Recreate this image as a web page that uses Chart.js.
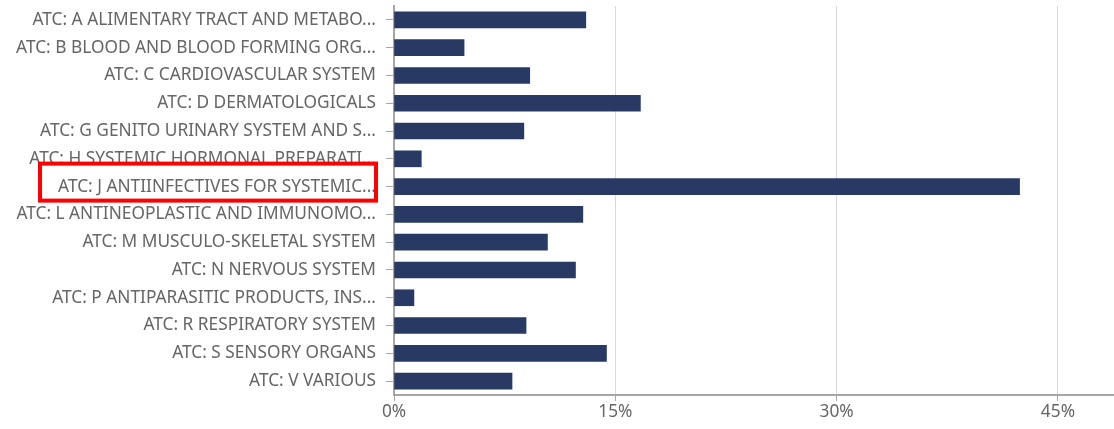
<!DOCTYPE html>
<html>
<head>
<meta charset="utf-8">
<script src="https://cdn.jsdelivr.net/npm/chart.js@4"></script>
<style>
  html, body { margin: 0; padding: 0; background: #fff; }
  #wrap { width: 1114px; height: 429px; }
</style>
</head>
<body>
<div id="wrap"><canvas id="atc-chart"></canvas></div>
<script>
// ATC groups (labels truncated as shown in the source chart)
var categories = [
  "ATC: A ALIMENTARY TRACT AND METABO...",
  "ATC: B BLOOD AND BLOOD FORMING ORG...",
  "ATC: C CARDIOVASCULAR SYSTEM",
  "ATC: D DERMATOLOGICALS",
  "ATC: G GENITO URINARY SYSTEM AND S...",
  "ATC: H SYSTEMIC HORMONAL PREPARATI...",
  "ATC: J ANTIINFECTIVES FOR SYSTEMIC...",
  "ATC: L ANTINEOPLASTIC AND IMMUNOMO...",
  "ATC: M MUSCULO-SKELETAL SYSTEM",
  "ATC: N NERVOUS SYSTEM",
  "ATC: P ANTIPARASITIC PRODUCTS, INS...",
  "ATC: R RESPIRATORY SYSTEM",
  "ATC: S SENSORY ORGANS",
  "ATC: V VARIOUS"
];
// share in percent
var shares = [13.0, 4.75, 9.2, 16.7, 8.8, 1.85, 42.4, 12.8, 10.4, 12.3, 1.35, 8.95, 14.4, 8.0];
var xTicks = [0, 15, 30, 45];
var highlighted = 6; // index of the boxed label

(function () {
  var grey = "#666666";
  var axisGrey = "#a6a6a6";
  var font = { family: "'Noto Sans', 'Open Sans', sans-serif", size: 17.3 };

  // red box around the highlighted category label
  var highlightBox = {
    id: "highlightBox",
    afterDraw: function (chart) {
      var y = chart.scales.y.getPixelForValue(highlighted);
      var ctx = chart.ctx;
      ctx.save();
      ctx.strokeStyle = "#ff0000";
      ctx.lineWidth = 4;
      ctx.strokeRect(40, y - 23, 336, 37);
      ctx.restore();
    }
  };

  new Chart(document.getElementById("atc-chart"), {
    type: "bar",
    data: {
      labels: categories,
      datasets: [
        {
          data: shares,
          backgroundColor: "#283a64",
          borderWidth: 0,
          barThickness: 16
        }
      ]
    },
    options: {
      indexAxis: "y",
      responsive: true,
      maintainAspectRatio: false,
      animation: false,
      layout: { padding: { top: 6, right: 0, left: 0, bottom: 0 } },
      plugins: {
        legend: { display: false },
        tooltip: { enabled: false }
      },
      scales: {
        x: {
          min: 0,
          max: 48.8,
          afterBuildTicks: function (scale) {
            scale.ticks = xTicks.map(function (v) { return { value: v }; });
          },
          afterFit: function (scale) {
            scale.height = 34;
            scale.paddingRight = 0;
          },
          grid: {
            color: "#d9d9d9",
            lineWidth: 1,
            drawTicks: true,
            tickLength: 6,
            tickColor: axisGrey
          },
          border: { display: true, color: axisGrey, width: 2 },
          ticks: {
            color: grey,
            padding: 1,
            maxRotation: 0,
            font: font,
            callback: function (v) { return v + "%"; }
          }
        },
        y: {
          afterFit: function (scale) {
            scale.width = 394;
            scale.paddingTop = 0;
            scale.paddingBottom = 0;
          },
          grid: {
            display: true,
            offset: false,
            drawOnChartArea: false,
            drawTicks: true,
            tickLength: 8,
            tickColor: axisGrey
          },
          border: { display: true, color: axisGrey, width: 2 },
          ticks: {
            color: grey,
            padding: 10,
            autoSkip: false,
            font: font
          }
        }
      }
    },
    plugins: [highlightBox]
  });
})();
</script>
</body>
</html>
